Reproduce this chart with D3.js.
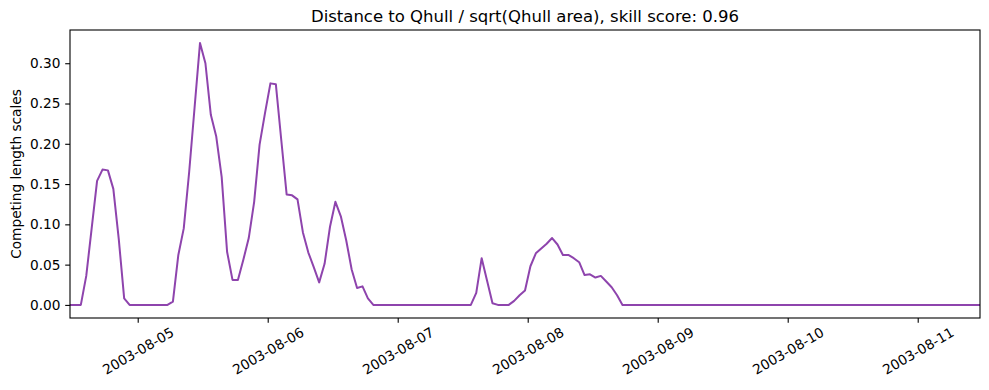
<!DOCTYPE html>
<html>
<head>
<meta charset="utf-8">
<script src="https://cdn.jsdelivr.net/npm/d3@7"></script>
<style>
  html, body { margin: 0; padding: 0; background: #fff; }
  svg { display: block; font-family: "DejaVu Sans", sans-serif; }
</style>
</head>
<body>
<svg id="chart" width="989" height="390"></svg>
<script>
// ---- data ----
const title = "Distance to Qhull / sqrt(Qhull area), skill score: 0.96";
const yLabel = "Competing length scales";
const startTime = "2003-08-04T11:30:00Z";   // first sample (hourly samples)
const stepHours = 1;
const values = [
  0, 0, 0, 0.036, 0.095, 0.154, 0.168, 0.167, 0.144, 0.082,
  0.008, 0, 0, 0, 0, 0, 0, 0, 0, 0.004,
  0.062, 0.095, 0.165, 0.245, 0.325, 0.300, 0.236, 0.209, 0.159, 0.066,
  0.031, 0.031, 0.056, 0.083, 0.128, 0.199, 0.238, 0.275, 0.274, 0.205,
  0.137, 0.136, 0.131, 0.090, 0.065, 0.047, 0.028, 0.051, 0.097, 0.128,
  0.110, 0.080, 0.044, 0.021, 0.023, 0.008, 0, 0, 0, 0,
  0, 0, 0, 0, 0, 0, 0, 0, 0, 0,
  0, 0, 0, 0, 0, 0.015, 0.058, 0.030, 0.002, 0,
  0, 0, 0.005, 0.012, 0.018, 0.048, 0.064, 0.070, 0.076, 0.083,
  0.075, 0.062, 0.062, 0.058, 0.053, 0.037, 0.038, 0.034, 0.036, 0.029,
  0.022, 0.012, 0, 0, 0, 0, 0, 0, 0, 0,
  0, 0, 0, 0, 0, 0, 0, 0, 0, 0,
  0, 0, 0, 0, 0, 0, 0, 0, 0, 0,
  0, 0, 0, 0, 0, 0, 0, 0, 0, 0,
  0, 0, 0, 0, 0, 0, 0, 0, 0, 0,
  0, 0, 0, 0, 0, 0, 0, 0, 0, 0,
  0, 0, 0, 0, 0, 0, 0, 0, 0
];
const xTickDates = ["2003-08-05", "2003-08-06", "2003-08-07", "2003-08-08", "2003-08-09", "2003-08-10", "2003-08-11"];
const yTicks = [0.00, 0.05, 0.10, 0.15, 0.20, 0.25, 0.30];

// ---- layout ----
const W = 989, H = 390;
const m = { left: 70, right: 980, top: 30, bottom: 318 };
const lineColor = "#8e44ad";
const FONT = "DejaVu Sans";

const t0 = new Date(startTime).getTime();
const data = values.map((v, i) => ({ t: new Date(t0 + i * stepHours * 3600 * 1000), v }));

const svg = d3.select("#chart");

const x = d3.scaleUtc()
  .domain(d3.extent(data, d => d.t))
  .range([m.left, m.right]);

const yMin = d3.min(values), yMax = d3.max(values);
const pad = (yMax - yMin) * 0.05;
const y = d3.scaleLinear()
  .domain([yMin - pad, yMax + pad])
  .range([m.bottom, m.top]);

// line
svg.append("path")
  .datum(data)
  .attr("fill", "none")
  .attr("stroke", lineColor)
  .attr("stroke-width", 2)
  .attr("stroke-linejoin", "round")
  .attr("d", d3.line().x(d => x(d.t)).y(d => y(d.v)));

// axes
const tickFont = 13.7;
const xTicks = xTickDates.map(s => new Date(s + "T00:00:00Z"));
const xAxis = d3.axisBottom(x)
  .tickValues(xTicks)
  .tickSize(4.8)
  .tickPadding(4.8)
  .tickFormat(d3.utcFormat("%Y-%m-%d"));
const gx = svg.append("g")
  .attr("transform", `translate(0,${m.bottom})`)
  .attr("font-family", FONT)
  .call(xAxis);
gx.attr("font-family", FONT);
gx.select(".domain").remove();
gx.selectAll(".tick line").attr("stroke", "#000").attr("stroke-width", 1.1);
gx.selectAll(".tick text").remove();
gx.selectAll(".tick")
  .append("text")
  .attr("fill", "#000")
  .attr("font-family", FONT)
  .attr("font-size", tickFont)
  .attr("text-anchor", "middle")
  .attr("dy", "0.35em")
  .attr("transform", "translate(0,33) rotate(-30)")
  .text(d => d3.utcFormat("%Y-%m-%d")(d));

const yAxis = d3.axisLeft(y)
  .tickValues(yTicks)
  .tickSize(4.8)
  .tickPadding(4.8)
  .tickFormat(d3.format(".2f"));
const gy = svg.append("g")
  .attr("transform", `translate(${m.left},0)`)
  .call(yAxis);
gy.attr("font-family", FONT);
gy.select(".domain").remove();
gy.selectAll(".tick line").attr("stroke", "#000").attr("stroke-width", 1.1);
gy.selectAll(".tick text")
  .attr("fill", "#000")
  .attr("font-size", tickFont)
  .attr("font-family", FONT);

// frame
svg.append("rect")
  .attr("x", m.left).attr("y", m.top)
  .attr("width", m.right - m.left).attr("height", m.bottom - m.top)
  .attr("fill", "none")
  .attr("stroke", "#000")
  .attr("stroke-width", 1.1);

// title
svg.append("text")
  .attr("x", (m.left + m.right) / 2)
  .attr("y", 22)
  .attr("text-anchor", "middle")
  .attr("font-family", FONT)
  .attr("font-size", 16.5)
  .attr("fill", "#000")
  .text(title);

// y label
svg.append("text")
  .attr("transform", `translate(21,${(m.top + m.bottom) / 2}) rotate(-90)`)
  .attr("text-anchor", "middle")
  .attr("font-family", FONT)
  .attr("font-size", tickFont)
  .attr("fill", "#000")
  .text(yLabel);
</script>
</body>
</html>
